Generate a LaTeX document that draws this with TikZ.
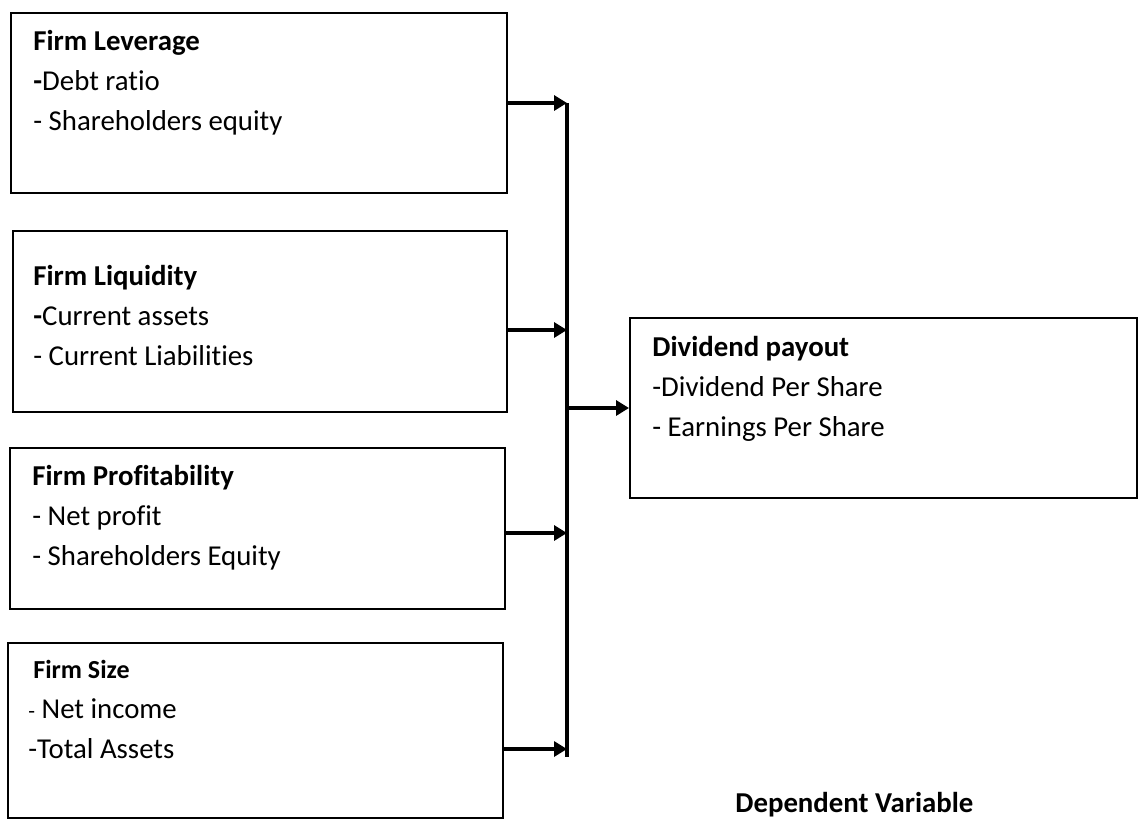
\documentclass[tikz,border=0pt]{standalone}
\usepackage{fontspec}
\setmainfont{Carlito}[Ligatures=NoCommon]
\usetikzlibrary{arrows.meta,positioning,calc}

\tikzset{
  varbox/.style={draw,line width=1pt,anchor=north west,inner sep=0pt},
  vartext/.style={anchor=base west,align=left,inner sep=0pt,font=\fontsize{14.4}{20}\selectfont},
  link/.style={line width=1.6pt,-{Triangle[length=6.5pt,width=7.5pt]}}
}

\begin{document}
\begin{tikzpicture}[x=.5pt,y=-.5pt]
  \useasboundingbox (0,0) rectangle (1138,821);
  % independent variables
  \node[varbox,minimum width=248pt,minimum height=90pt] (lev) at (10,12) {};
  \node[varbox,minimum width=247pt,minimum height=90.5pt] (liq) at (12,230) {};
  \node[varbox,minimum width=247.5pt,minimum height=80.5pt] (prof) at (9,447) {};
  \node[varbox,minimum width=247.5pt,minimum height=87.5pt] (size) at (7,642) {};
  \node[vartext] at ($(lev.north west)+(23,118)$) {\textbf{Firm Leverage}\\\textbf{-}Debt ratio\\- Shareholders equity};
  \node[vartext] at ($(liq.north west)+(21,135)$) {\textbf{Firm Liquidity}\\\textbf{-}Current assets\\- Current Liabilities};
  \node[vartext] at ($(prof.north west)+(23,118)$) {\textbf{Firm Profitability}\\- Net profit\\- Shareholders Equity};
  \node[vartext] at ($(size.north west)+(21,116)$) {\hspace{2.5pt}{\fontsize{13}{20}\selectfont\textbf{Firm Size}}\\{\fontsize{11}{20}\selectfont-} Net income\\-Total Assets};
  % dependent variable
  \node[varbox,minimum width=253.5pt,minimum height=90pt] (div) at (629,317) {};
  \node[vartext] at ($(div.north west)+(23,119)$) {\textbf{Dividend payout}\\-Dividend Per Share\\- Earnings Per Share};
  \node[vartext,font=\fontsize{14.4}{20}\selectfont\bfseries] (dep) at (735,812) {Dependent Variable};
  % bus and arrows
  \coordinate (j1) at (567,103);
  \coordinate (j2) at (567,330);
  \coordinate (j3) at (567,533);
  \coordinate (j4) at (567,749);
  \coordinate (jout) at (567,408);
  \draw[line width=1.6pt] (j1) -- (567,757);
  \draw[link] (lev.east |- j1) -- (j1);
  \draw[link] (liq.east |- j2) -- (j2);
  \draw[link] (prof.east |- j3) -- (j3);
  \draw[link] (size.east |- j4) -- (j4);
  \draw[link] (jout) -- (div.west |- jout);
\end{tikzpicture}
\end{document}
